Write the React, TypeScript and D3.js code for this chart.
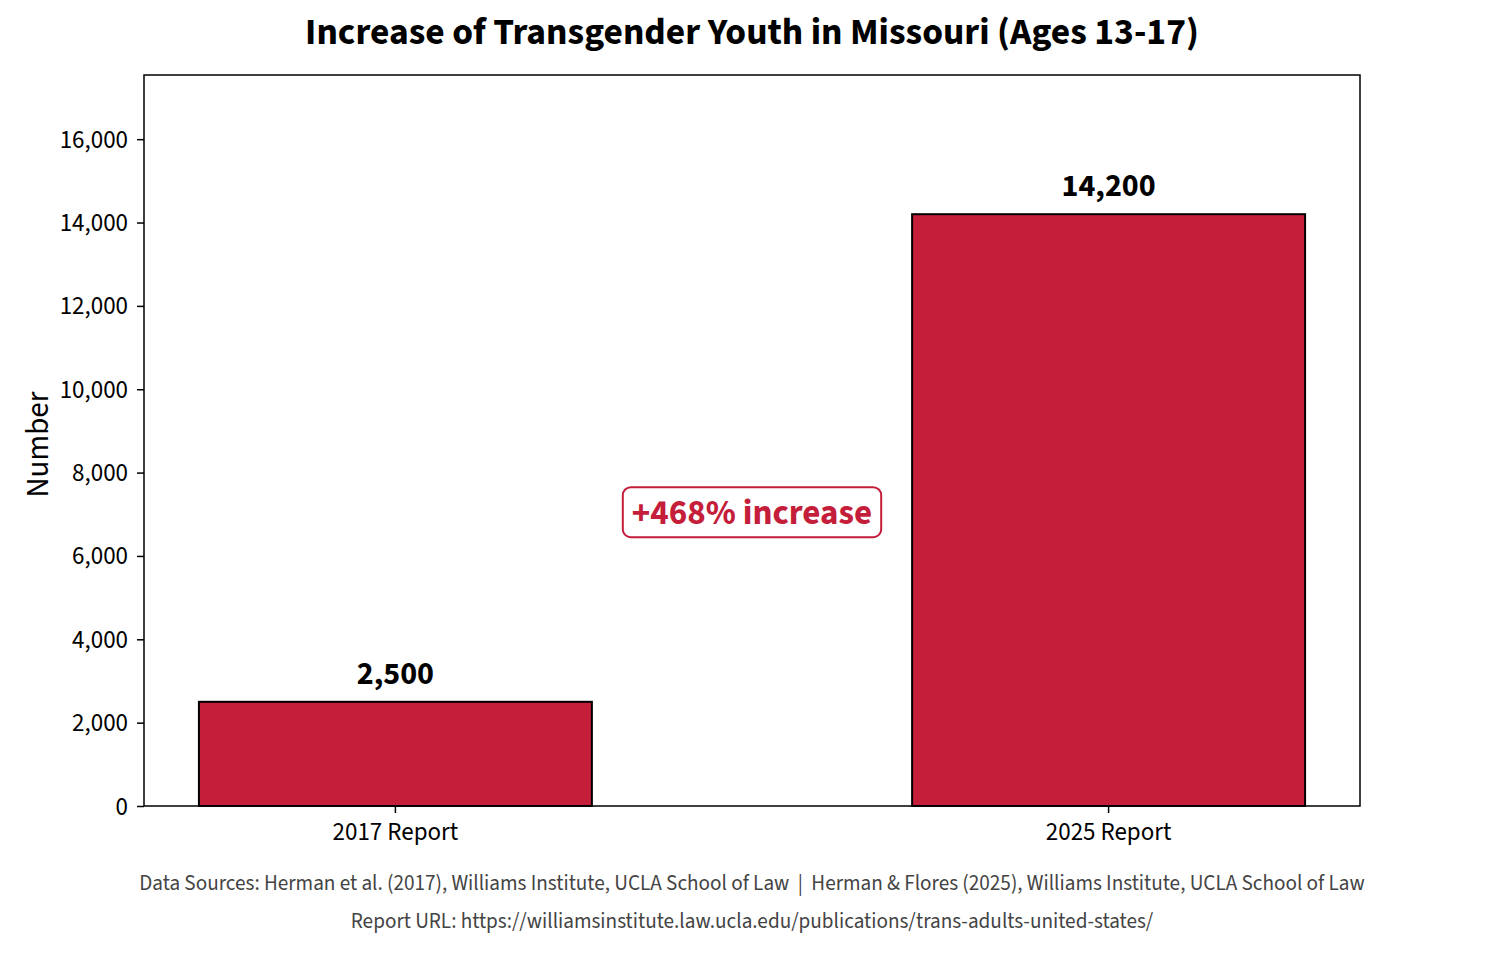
import React, { useEffect, useRef } from 'react'
import * as d3 from 'd3'

// chart data
const categories = ['2017 Report', '2025 Report']
const values = [2500, 14200]
const yTicks = [0, 2000, 4000, 6000, 8000, 10000, 12000, 14000, 16000]
const annotationText = '+468% increase'
const annotationValue = 7050
const titleText = 'Increase of Transgender Youth in Missouri (Ages 13-17)'
const footerLines = [
  'Data Sources: Herman et al. (2017), Williams Institute, UCLA School of Law  |  Herman & Flores (2025), Williams Institute, UCLA School of Law',
  'Report URL: https://williamsinstitute.law.ucla.edu/publications/trans-adults-united-states/',
]

const W = 1504
const H = 960
const FONT = '"Source Sans Pro", "Source Sans 3", Lato, "Noto Sans", sans-serif'
const RED = '#C41E3A'

export default function App() {
  const ref = useRef<SVGSVGElement>(null)

  useEffect(() => {
    document.body.style.margin = '0'
    const svg = d3.select(ref.current)
    svg.selectAll('*').remove()

    const margin = { top: 75, right: 144, bottom: 154, left: 144 }
    const width = W - margin.left - margin.right
    const height = H - margin.top - margin.bottom

    const x = d3.scaleBand()
      .domain(categories)
      .range([0, width])
      .paddingInner(0.449)
      .paddingOuter(0.077)

    const y = d3.scaleLinear()
      .domain([0, 17540])
      .range([height, 0])

    const g = svg.append('g')
      .attr('transform', `translate(${margin.left},${margin.top})`)

    // bars
    g.selectAll('.bar')
      .data(values)
      .enter()
      .append('rect')
      .attr('class', 'bar')
      .attr('x', (d, i) => x(categories[i]))
      .attr('y', d => y(d))
      .attr('width', x.bandwidth())
      .attr('height', d => height - y(d))
      .attr('fill', RED)
      .attr('stroke', '#000')
      .attr('stroke-width', 2)

    // value labels
    g.selectAll('.val')
      .data(values)
      .enter()
      .append('text')
      .attr('class', 'val')
      .attr('x', (d, i) => x(categories[i]) + x.bandwidth() / 2)
      .attr('y', d => y(d) - 18)
      .attr('text-anchor', 'middle')
      .attr('font-family', FONT)
      .attr('font-weight', 'bold')
      .attr('font-size', 32)
      .text(d => d3.format(',')(d))

    // y axis
    const yAxis = g.append('g')
      .call(d3.axisLeft(y).tickValues(yTicks).tickFormat(d3.format(',')).tickSize(7).tickPadding(9))
    yAxis.select('.domain').remove()
    yAxis.selectAll('text').attr('font-family', FONT).attr('font-size', 25).attr('fill', '#000')
    yAxis.selectAll('line').attr('stroke', '#000').attr('stroke-width', 1.5)

    // x axis
    const xAxis = g.append('g')
      .attr('transform', `translate(0,${height})`)
      .call(d3.axisBottom(x).tickSize(7).tickPadding(9))
    xAxis.select('.domain').remove()
    xAxis.selectAll('text').attr('font-family', FONT).attr('font-size', 25).attr('fill', '#000')
    xAxis.selectAll('line').attr('stroke', '#000').attr('stroke-width', 1.5)

    // frame
    g.append('rect')
      .attr('width', width)
      .attr('height', height)
      .attr('fill', 'none')
      .attr('stroke', '#000')
      .attr('stroke-width', 1.5)

    // annotation box
    const ann = g.append('g')
      .attr('transform', `translate(${width / 2},${y(annotationValue)})`)
    const annText = ann.append('text')
      .attr('text-anchor', 'middle')
      .attr('dy', '0.35em')
      .attr('font-family', FONT)
      .attr('font-weight', 'bold')
      .attr('font-size', 35)
      .attr('fill', RED)
      .text(annotationText)
    const bb = (annText.node() as SVGTextElement).getBBox()
    ann.insert('rect', 'text')
      .attr('x', bb.x - 9)
      .attr('y', -25)
      .attr('width', bb.width + 18)
      .attr('height', 50)
      .attr('rx', 8)
      .attr('fill', '#fff')
      .attr('stroke', RED)
      .attr('stroke-width', 2)

    // y label
    svg.append('text')
      .attr('transform', `translate(48,${margin.top + height / 2 + 4}) rotate(-90)`)
      .attr('text-anchor', 'middle')
      .attr('font-family', FONT)
      .attr('font-size', 31)
      .text('Number')

    // title
    svg.append('text')
      .attr('x', W / 2)
      .attr('y', 44)
      .attr('text-anchor', 'middle')
      .attr('font-family', FONT)
      .attr('font-weight', 'bold')
      .attr('font-size', 37.5)
      .text(titleText)

    // footer
    svg.selectAll('.foot')
      .data(footerLines)
      .enter()
      .append('text')
      .attr('class', 'foot')
      .attr('x', W / 2)
      .attr('y', (d, i) => 890 + i * 38)
      .attr('text-anchor', 'middle')
      .attr('font-family', FONT)
      .attr('font-size', 21.2)
      .attr('fill', '#444')
      .attr('xml:space', 'preserve')
      .style('white-space', 'pre')
      .text(d => d)
  }, [])

  return <svg ref={ref} width={W} height={H} style={{ display: 'block', background: '#fff' }} />
}
